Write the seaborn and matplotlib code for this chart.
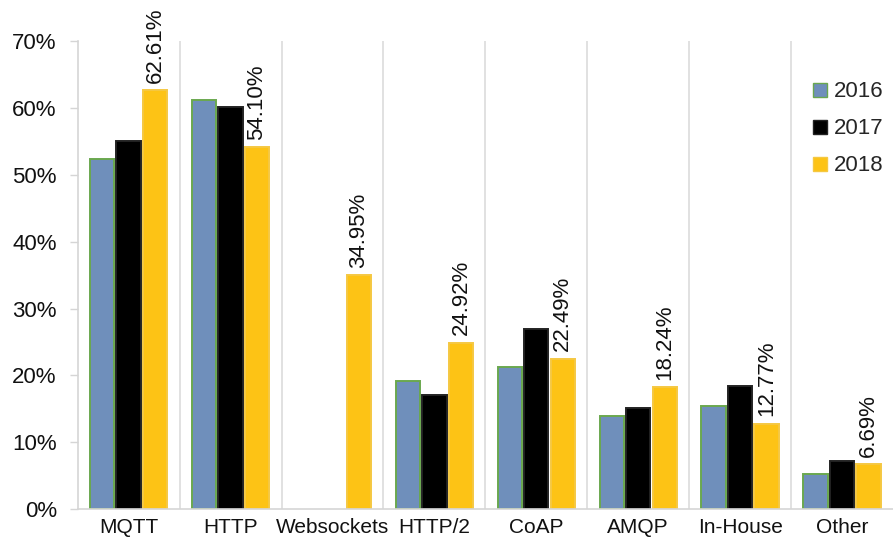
import numpy as np
import pandas as pd
import matplotlib
matplotlib.use("Agg")
import matplotlib.pyplot as plt
import seaborn as sns
from matplotlib.patches import Patch

protocols = ["MQTT", "HTTP", "Websockets", "HTTP/2", "CoAP", "AMQP", "In-House", "Other"]
years = ["2016", "2017", "2018"]
share_2016 = [52.4, 61.2, np.nan, 19.2, 21.2, 13.9, 15.4, 5.3]
share_2017 = [55.0, 60.2, np.nan, 17.1, 26.9, 15.2, 18.4, 7.2]
share_2018 = [62.61, 54.10, 34.95, 24.92, 22.49, 18.24, 12.77, 6.69]
yticks = [0, 10, 20, 30, 40, 50, 60, 70]

colors = {"2016": "#6f8fbb", "2017": "#000000", "2018": "#fdc315"}
edges = {"2016": "#6aa84f", "2017": "#222222", "2018": "#f5c842"}

df = pd.DataFrame({
    "protocol": protocols * 3,
    "year": [y for y in years for _ in protocols],
    "share": share_2016 + share_2017 + share_2018,
})

sns.set_style("white")
plt.rcParams["font.family"] = ["Liberation Sans", "DejaVu Sans"]

fig = plt.figure(figsize=(8.93, 5.40), dpi=100)
ax = fig.add_axes([0.087, 0.057, 0.913, 0.867])

sns.barplot(data=df, x="protocol", y="share", hue="year", order=protocols,
            hue_order=years, palette=colors, width=0.78, gap=0.08,
            legend=False, ax=ax, saturation=1)

for container, yr in zip(ax.containers, years):
    for bar in container:
        bar.set_edgecolor(edges[yr])
        bar.set_linewidth(1.4)

# value labels above the 2018 bars
for bar, v in zip(ax.containers[2], share_2018):
    ax.text(bar.get_x() + bar.get_width() / 2, v + 1.1, f"{v:.2f}%",
            rotation=90, ha="center", va="bottom", fontsize=16, color="#111111",
            clip_on=False)

# category separators
for xs in np.arange(0.5, len(protocols) - 1, 1.0):
    ax.axvline(xs, color="#dcdcdc", lw=1.2, zorder=0)

ax.set_xlim(-0.5, len(protocols) - 0.5)
ax.set_ylim(0, 70)
ax.set_yticks(yticks)
ax.set_yticklabels([f"{t}%" for t in yticks], fontsize=16, color="#111111")
ax.tick_params(axis="y", which="both", left=True, length=6, width=1, color="#d5d5d5", pad=9)
ax.tick_params(axis="x", bottom=False, labelsize=15, labelcolor="#111111", pad=3)
ax.set_xlabel("")
ax.set_ylabel("")

for side in ["top", "right"]:
    ax.spines[side].set_visible(False)
for side in ["left", "bottom"]:
    ax.spines[side].set_color("#d5d5d5")
    ax.spines[side].set_linewidth(1.2)

handles = [Patch(facecolor=colors[y], edgecolor=edges[y], label=y) for y in years]
leg = ax.legend(handles=handles, loc="upper right", bbox_to_anchor=(1.0, 0.935),
                frameon=False, fontsize=16, handlelength=0.6, handleheight=0.6,
                handletextpad=0.3, labelspacing=0.72, borderaxespad=0.05)

fig.savefig("out.png", dpi=100)
